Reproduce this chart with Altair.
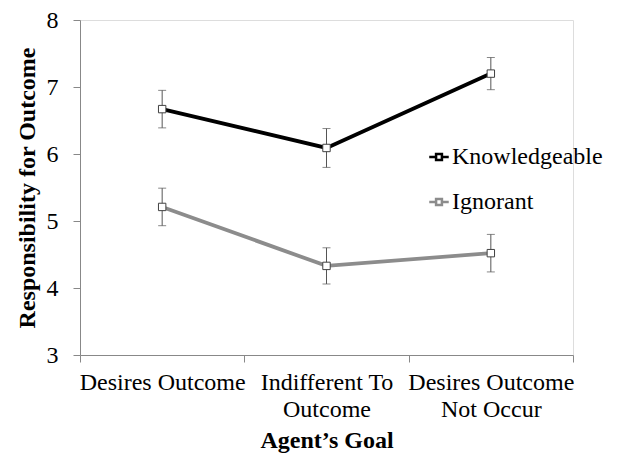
import altair as alt
import pandas as pd

goals = ["Desires Outcome", "Indifferent To|Outcome", "Desires Outcome|Not Occur"]
series = ["Knowledgeable", "Ignorant"]
knowledgeable = [6.67, 6.09, 7.20]
knowledgeable_err = [0.28, 0.29, 0.24]
ignorant = [5.21, 4.33, 4.52]
ignorant_err = [0.28, 0.27, 0.28]

rows = []
for g, m, e in zip(goals, knowledgeable, knowledgeable_err):
    rows.append({"goal": g, "group": "Knowledgeable", "mean": m, "err": e})
for g, m, e in zip(goals, ignorant, ignorant_err):
    rows.append({"goal": g, "group": "Ignorant", "mean": m, "err": e})
df = pd.DataFrame(rows)

FONT = "Liberation Serif"
FS = 24

x_enc = alt.X(
    "goal:N",
    sort=goals,
    scale=alt.Scale(paddingInner=0, paddingOuter=0),
    axis=alt.Axis(
        title="Agent\u2019s Goal",
        labelExpr="split(datum.label, '|')",
        labelAngle=0,
        labelFontSize=FS,
        labelLineHeight=27,
        labelPadding=8,
        labelFont=FONT,
        labelColor="black",
        tickBand="extent",
        tickSize=7,
        tickColor="#888888",
        domainColor="#888888",
        titleFont=FONT,
        titleFontSize=FS,
        titleFontWeight="bold",
        titleColor="black",
        titlePadding=7,
    ),
)
y_scale = alt.Scale(domain=[3, 8], nice=False, zero=False)
y_axis = alt.Axis(
    title="Responsibility for Outcome",
    values=[3, 4, 5, 6, 7, 8],
    format="d",
    grid=False,
    labelFontSize=FS,
    labelFont=FONT,
    labelColor="black",
    labelPadding=15,
    tickSize=7,
    tickColor="#888888",
    domainColor="#888888",
    titleFont=FONT,
    titleFontSize=FS,
    titleFontWeight="bold",
    titleColor="black",
    titlePadding=7,
)

color_scale = alt.Scale(domain=series, range=["#000000", "#8c8c8c"])

base = alt.Chart(df)

errs = base.transform_calculate(
    lo="datum.mean - datum.err", hi="datum.mean + datum.err"
)
rules = errs.mark_rule(color="#555555", strokeWidth=1).encode(
    x=x_enc, y=alt.Y("lo:Q", scale=y_scale, axis=y_axis), y2="hi:Q"
)
caps_lo = errs.mark_tick(color="#555555", size=8, thickness=1).encode(
    x=x_enc, y=alt.Y("lo:Q", scale=y_scale)
)
caps_hi = errs.mark_tick(color="#555555", size=8, thickness=1).encode(
    x=x_enc, y=alt.Y("hi:Q", scale=y_scale)
)

lines = base.mark_line(strokeWidth=3.8).encode(
    x=x_enc,
    y=alt.Y("mean:Q", scale=y_scale, axis=y_axis),
    color=alt.Color(
        "group:N",
        scale=color_scale,
        sort=series,
        legend=alt.Legend(
            title=None,
            orient="none",
            legendX=347,
            legendY=125,
            labelFont=FONT,
            labelFontSize=FS,
            labelColor="black",
            labelOffset=1,
            rowPadding=21,
            symbolType="M-1,0 H-0.32 M0.32,0 H1 M-0.3,-0.3 H0.3 V0.3 H-0.3 Z",
            symbolSize=380,
            symbolStrokeWidth=2.5,
            symbolFillColor="white",
        ),
    ),
)

points = base.mark_point(
    shape="square", filled=True, fill="white", stroke="#404040", strokeWidth=1, size=55, opacity=1
).encode(x=x_enc, y=alt.Y("mean:Q", scale=y_scale))

chart = (
    alt.layer(rules, caps_lo, caps_hi, lines, points)
    .properties(
        width=493,
        height=335,
        autosize=alt.AutoSizeParams(type="none"),
        padding={"left": 72, "top": 12, "right": 50, "bottom": 106},
    )
    .configure_view(stroke=None)
    .configure(background="white")
)

chart.save("out.html", embed_options={"renderer": "svg", "actions": False})
